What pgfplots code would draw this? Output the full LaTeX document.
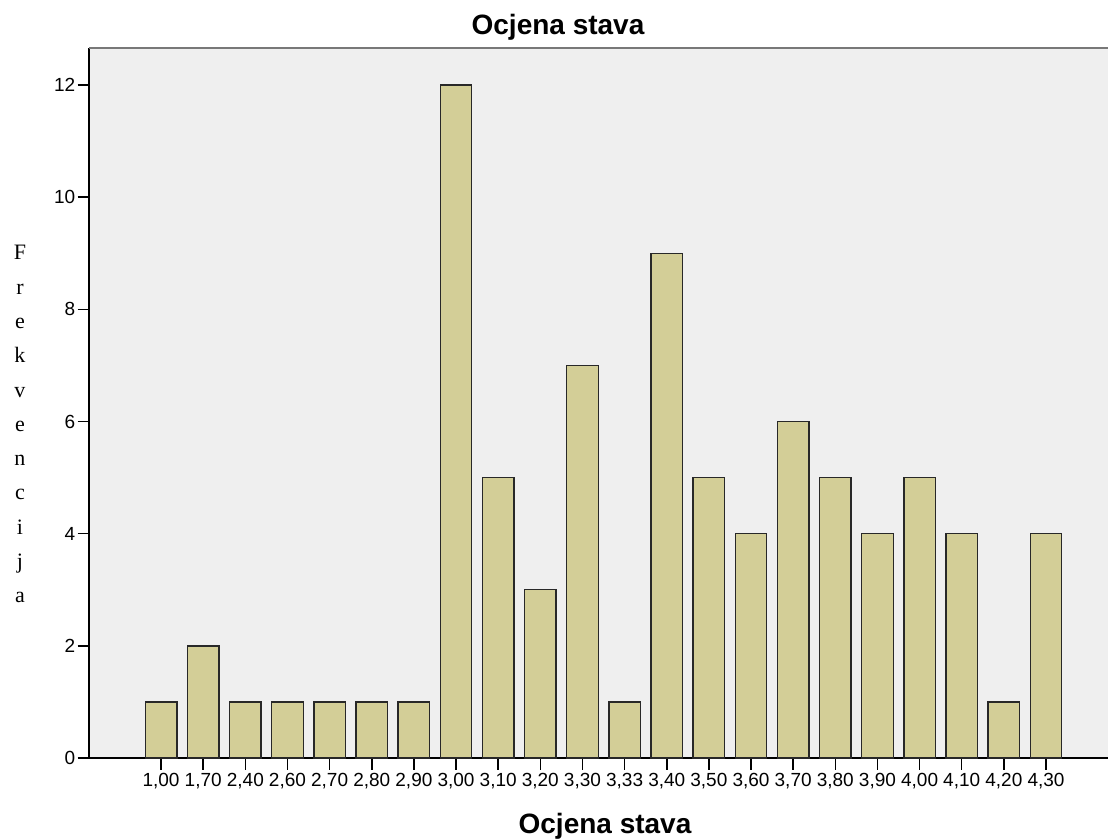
\documentclass[border=0pt]{standalone}
\usepackage{pgfplots}
\pgfplotsset{compat=1.18}
\usepackage{fontspec}
\setmainfont{Liberation Sans}
\newfontfamily\serifa{Liberation Serif}
\definecolor{bg}{RGB}{239,239,239}
\definecolor{barfill}{RGB}{211,206,151}
\definecolor{topline}{RGB}{120,120,120}
\definecolor{baredge}{RGB}{40,40,40}
\begin{document}
\begin{tikzpicture}[x=1pt,y=1pt]
\useasboundingbox (0,0) rectangle (1108,839);
\clip (0,0) rectangle (1108,839);
\node[anchor=base, font=\bfseries\fontsize{28}{30}\selectfont, inner sep=0] at (558,804) {Ocjena stava};
\begin{axis}[
  at={(89pt,81pt)}, anchor=south west,
  scale only axis, width=1032pt, height=710pt,
  xmin=-1.71, xmax=22.78, ymin=0, ymax=12.66,
  axis x line*=bottom, axis y line*=left,
  axis line style={black, line width=1.6pt},
  axis background/.style={fill=bg},
  clip=false,
  ybar, bar width=31.5pt,
  xtick=data,
  xticklabels={{1,00},{1,70},{2,40},{2,60},{2,70},{2,80},{2,90},{3,00},{3,10},{3,20},{3,30},{3,33},{3,40},{3,50},{3,60},{3,70},{3,80},{3,90},{4,00},{4,10},{4,20},{4,30}},
  ytick={0,2,...,12},
  tick align=outside,
  major tick length=11.5pt,
  tick style={black, line width=1.5pt},
  /pgf/number format/assume math mode=true,
  xticklabel style={font=\fontsize{19}{20}\selectfont, anchor=north, inner sep=0pt, yshift=-4pt},
  yticklabel style={font=\fontsize{19}{20}\selectfont, anchor=east, inner sep=0pt, xshift=-2pt},
  xlabel={Ocjena stava},
  xlabel style={font=\bfseries\fontsize{28}{30}\selectfont, at={(axis description cs:0.5,0)}, anchor=base, inner sep=0pt, yshift=-75pt},
  ylabel={F\\r\\e\\k\\v\\e\\n\\c\\i\\j\\a},
  ylabel style={rotate=-90, align=center, font=\serifa\fontsize{22}{34.3}\selectfont, at={(axis description cs:0,0.47)}, anchor=center, inner sep=0pt, xshift=-69pt},
]
\addplot[fill=barfill, draw=baredge, line width=1.4pt] coordinates {
(0,1)(1,2)(2,1)(3,1)(4,1)(5,1)(6,1)(7,12)(8,5)(9,3)(10,7)(11,1)(12,9)(13,5)(14,4)(15,6)(16,5)(17,4)(18,5)(19,4)(20,1)(21,4)};
\draw[topline, line width=2.5pt] (rel axis cs:0,1) -- (rel axis cs:1,1);
\end{axis}
\end{tikzpicture}
\end{document}
